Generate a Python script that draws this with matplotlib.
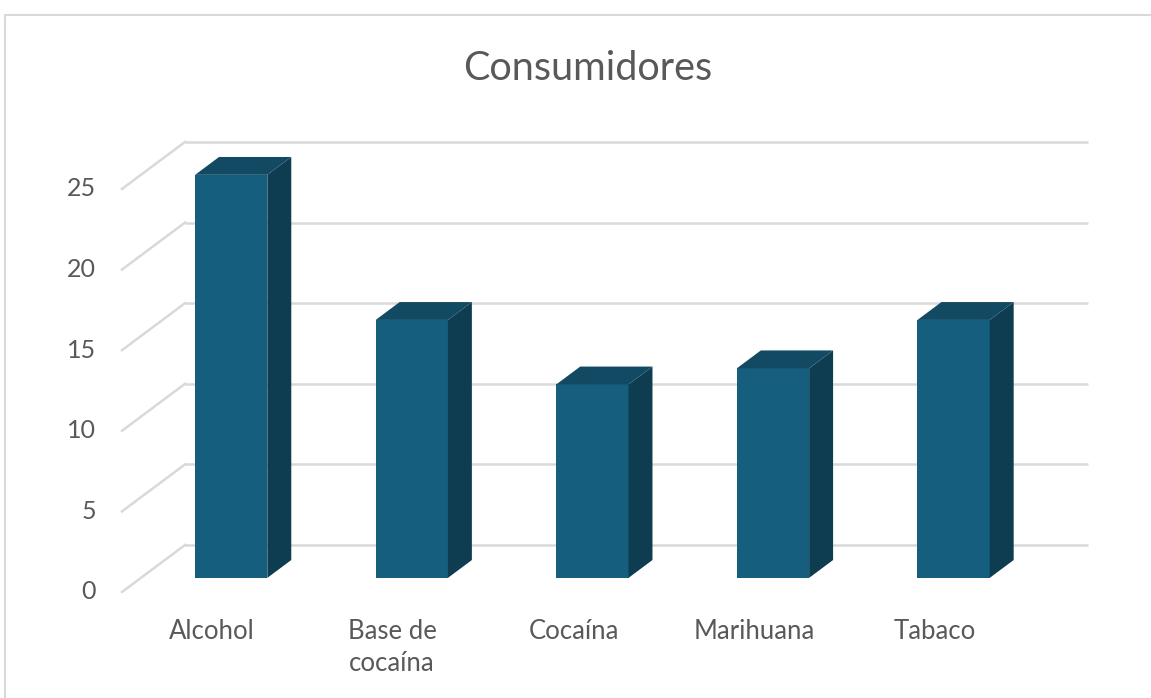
import matplotlib
matplotlib.use("Agg")
import matplotlib.pyplot as plt
from matplotlib.patches import Polygon, Rectangle

plt.rcParams['font.family'] = ['Lato', 'DejaVu Sans']

# data
categories = ['Alcohol', 'Base de\ncocaína', 'Cocaína', 'Marihuana', 'Tabaco']
values = [25, 16, 12, 13, 16]
yticks = [0, 5, 10, 15, 20, 25]
title = 'Consumidores'

# colours
c_front = '#165E7D'
c_top = '#134A63'
c_side = '#0E3C50'
c_grid = '#D9D9D9'
c_text = '#595959'

# oblique depth: full floor depth in data units
depth_dx = 0.349
depth_dy = 2.916
bar_d0, bar_d1 = 0.30, 0.68
half_w = 0.2

fig = plt.figure(figsize=(11.51, 6.98), dpi=100)
ax = fig.add_axes([0, 0, 1, 1])
ax.set_xlim(-0.6755, 5.6977)
ax.set_ylim(-6.576, 36.72)
ax.axis('off')

# chart frame
fig.patches.append(Rectangle((5 / 1151, -0.05), 1.2, 1 - 15 / 698 + 0.05,
                             transform=fig.transFigure, fill=False,
                             edgecolor=c_grid, linewidth=1.5))

n = len(categories)
# gridlines: back wall + left side wall
for v in yticks:
    ax.plot([depth_dx, n + depth_dx], [v + depth_dy, v + depth_dy],
            color=c_grid, lw=1.8, zorder=1, solid_capstyle='butt')
    ax.plot([0, depth_dx], [v, v + depth_dy], color=c_grid, lw=1.8, zorder=1)
    ax.text(-0.145, v, str(v), ha='right', va='center', fontsize=18, color=c_text)

# bars
for i, val in enumerate(values):
    cx = i + 0.5
    x0 = cx - half_w + bar_d0 * depth_dx
    x1 = cx + half_w + bar_d0 * depth_dx
    y0 = bar_d0 * depth_dy
    y1 = val + bar_d0 * depth_dy
    ddx = (bar_d1 - bar_d0) * depth_dx
    ddy = (bar_d1 - bar_d0) * depth_dy
    front = Polygon([(x0, y0), (x1, y0), (x1, y1), (x0, y1)], closed=True,
                    facecolor=c_front, edgecolor='none', zorder=3)
    side = Polygon([(x1, y0), (x1 + ddx, y0 + ddy), (x1 + ddx, y1 + ddy), (x1, y1)],
                   closed=True, facecolor=c_side, edgecolor='none', zorder=3)
    top = Polygon([(x0, y1), (x1, y1), (x1 + ddx, y1 + ddy), (x0 + ddx, y1 + ddy)],
                  closed=True, facecolor=c_top, edgecolor='none', zorder=3)
    for p in (front, side, top):
        ax.add_patch(p)
    ax.text(cx, -1.65, categories[i], ha='center', va='top', fontsize=18.5,
            color=c_text, linespacing=1.35, multialignment='left')

fig.text(588 / 1151, 1 - 68 / 698, title, ha='center', va='center',
         fontsize=28.5, color=c_text)

fig.savefig('out.png', dpi=100)
